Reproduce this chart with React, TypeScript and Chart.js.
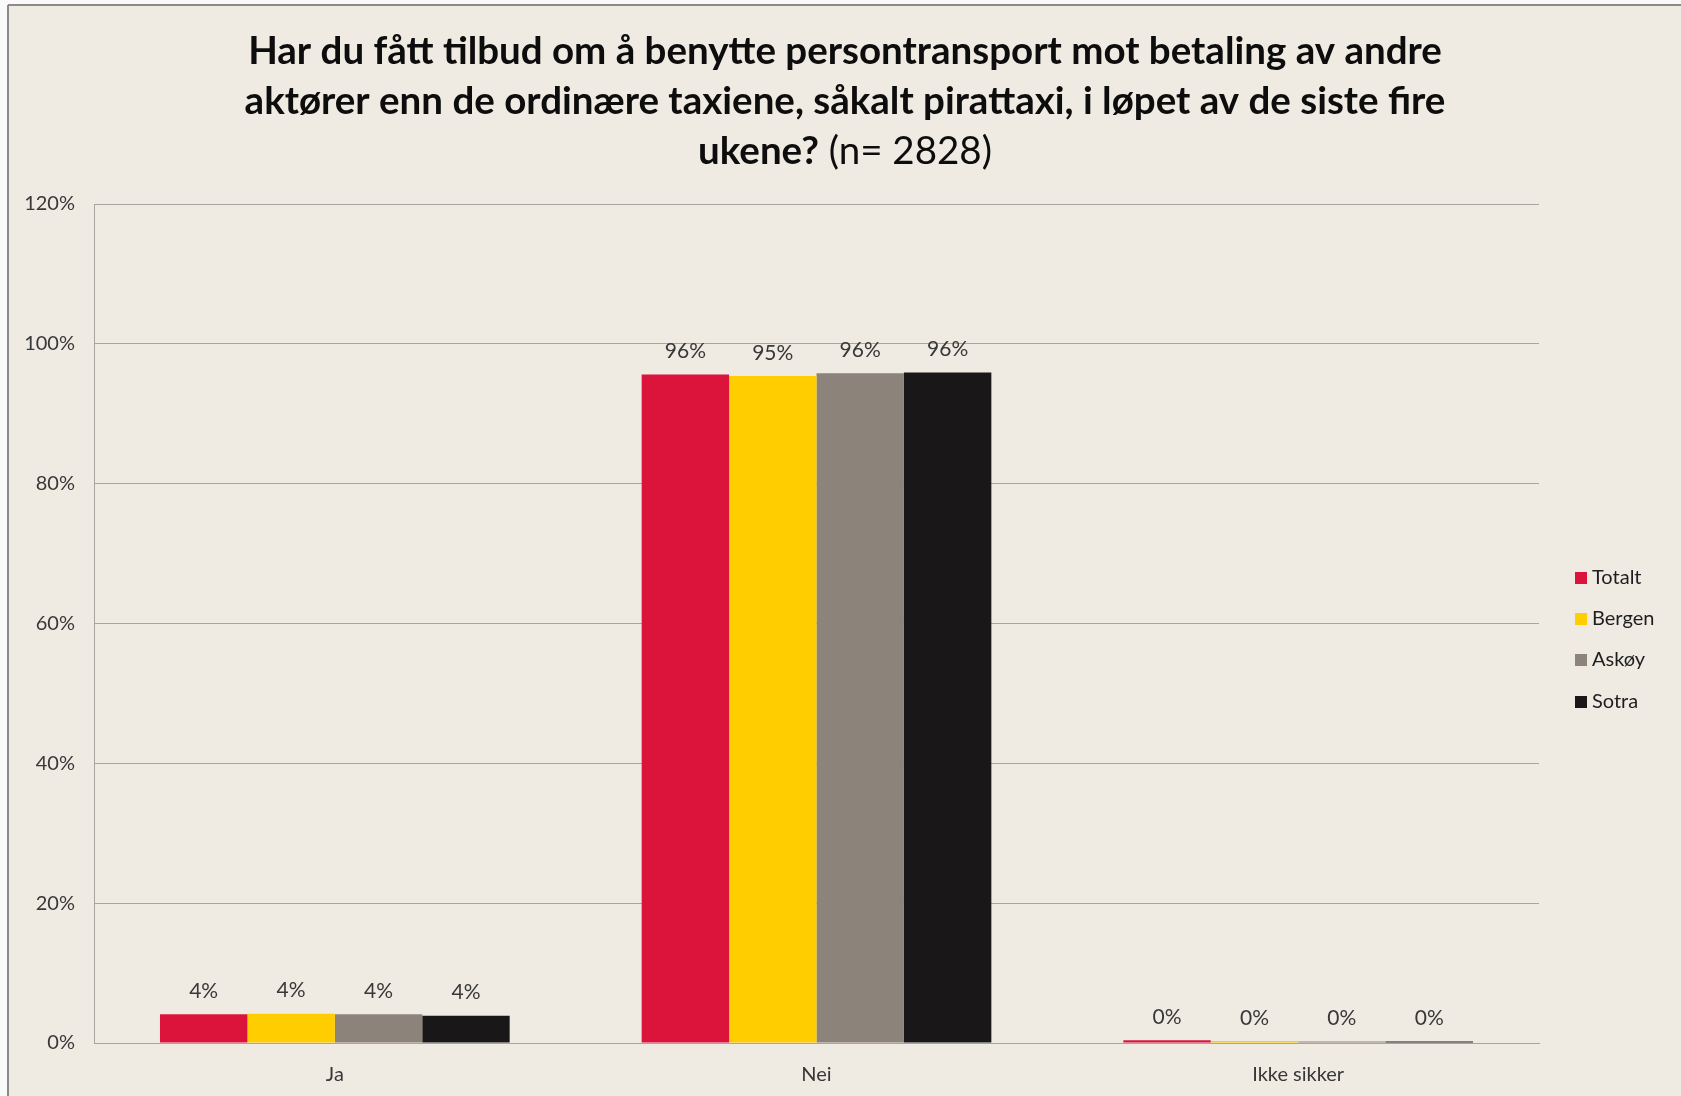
import React, { useEffect, useRef } from "react";
import { Chart, registerables } from "chart.js";

Chart.register(...registerables);

const categories = ["Ja", "Nei", "Ikke sikker"];
const seriesNames = ["Totalt", "Bergen", "Askøy", "Sotra"];
const totalt = [4.1, 95.6, 0.4];
const bergen = [4.2, 95.4, 0.3];
const askoy = [4.1, 95.8, 0.2];
const sotra = [3.9, 95.9, 0.2];
const seriesColors = ["#DC143C", "#FFCD00", "#8C837A", "#1A1719"];
const yTicks = [0, 20, 40, 60, 80, 100, 120];
const titleLines = [
  "Har du fått tilbud om å benytte persontransport mot betaling av andre",
  "aktører enn de ordinære taxiene, såkalt pirattaxi, i løpet av de siste fire",
];
const titleLastBold = "ukene?";
const titleLastNormal = " (n= 2828)";

const FONT = 'Lato, "Open Sans", sans-serif';
const BG = "#EFEBE3";
const GRID = "#A8A49F";
const TEXT = "#383838";

const bgPlugin = {
  id: "bgPlugin",
  beforeDraw(chart: any) {
    const { ctx, width, height } = chart;
    ctx.save();
    ctx.fillStyle = "#FAFAFA";
    ctx.fillRect(0, 0, width, height);
    ctx.fillStyle = BG;
    ctx.fillRect(8, 5, width - 8, height - 5);
    ctx.strokeStyle = "#8A8A8A";
    ctx.lineWidth = 2;
    ctx.beginPath();
    ctx.moveTo(8, 5);
    ctx.lineTo(width, 5);
    ctx.moveTo(8, 5);
    ctx.lineTo(8, height);
    ctx.stroke();
    ctx.restore();
  },
};

const titlePlugin = {
  id: "titlePlugin",
  afterDraw(chart: any) {
    const { ctx } = chart;
    const cx = 845;
    ctx.save();
    ctx.fillStyle = "#0D0D0D";
    ctx.textBaseline = "alphabetic";
    ctx.textAlign = "center";
    const boldFont = `bold 38.5px ${FONT}`;
    const normFont = `38.5px ${FONT}`;
    ctx.font = boldFont;
    ctx.fillText(titleLines[0], cx, 64);
    ctx.fillText(titleLines[1], cx, 114);
    ctx.font = boldFont;
    const w1 = ctx.measureText(titleLastBold).width;
    ctx.font = normFont;
    const w2 = ctx.measureText(titleLastNormal).width;
    const start = cx - (w1 + w2) / 2;
    ctx.textAlign = "left";
    ctx.font = boldFont;
    ctx.fillText(titleLastBold, start, 164);
    ctx.font = normFont;
    ctx.fillText(titleLastNormal, start + w1, 164);
    ctx.restore();
  },
};

const legendPlugin = {
  id: "legendPlugin",
  afterDraw(chart: any) {
    const { ctx } = chart;
    const ys = [578, 619, 660, 702];
    ctx.save();
    ctx.font = `20px ${FONT}`;
    ctx.textBaseline = "middle";
    ctx.textAlign = "left";
    chart.data.datasets.forEach((ds: any, i: number) => {
      ctx.fillStyle = ds.backgroundColor;
      ctx.fillRect(1575, ys[i] - 6, 12, 12);
      ctx.fillStyle = "#1E1E1E";
      ctx.fillText(ds.label, 1592, ys[i]);
    });
    ctx.restore();
  },
};

const valueLabelPlugin = {
  id: "valueLabelPlugin",
  afterDatasetsDraw(chart: any) {
    const { ctx } = chart;
    ctx.save();
    ctx.font = `21px ${FONT}`;
    ctx.fillStyle = TEXT;
    ctx.textAlign = "center";
    ctx.textBaseline = "middle";
    chart.data.datasets.forEach((ds: any, i: number) => {
      const meta = chart.getDatasetMeta(i);
      meta.data.forEach((el: any, j: number) => {
        const v = ds.data[j];
        ctx.fillText(Math.round(v) + "%", el.x, el.y - 23);
      });
    });
    ctx.restore();
  },
};

export default function App() {
  const ref = useRef<HTMLCanvasElement | null>(null);
  useEffect(() => {
    if (!ref.current) return;
    const seriesData = [totalt, bergen, askoy, sotra];
    const chart = new Chart(ref.current, {
      type: "bar",
      data: {
        labels: categories,
        datasets: seriesNames.map((name, i) => ({
          label: name,
          data: seriesData[i],
          backgroundColor: seriesColors[i],
          borderWidth: 0,
          categoryPercentage: 0.726,
          barPercentage: 1.0,
        })),
      },
      options: {
        responsive: false,
        animation: false,
        layout: { padding: { left: 0, right: 142, top: 204, bottom: 0 } },
        plugins: {
          legend: { display: false },
          title: { display: false },
          tooltip: { enabled: false },
        },
        scales: {
          x: {
            grid: { display: false, drawTicks: false },
            border: { display: true, color: GRID, width: 1 },
            ticks: { font: { family: FONT, size: 20 }, color: TEXT, padding: 20 },
            afterFit: (s: any) => {
              s.height = 53;
            },
          },
          y: {
            min: 0,
            max: 120,
            afterBuildTicks: (s: any) => {
              s.ticks = yTicks.map((v) => ({ value: v }));
            },
            grid: { color: GRID, lineWidth: 1, drawTicks: false },
            border: { display: true, color: GRID, width: 1 },
            ticks: {
              font: { family: FONT, size: 20 },
              color: TEXT,
              padding: 19,
              callback: (v: any) => v + "%",
            },
            afterFit: (s: any) => {
              s.width = 94;
            },
          },
        },
      },
      plugins: [bgPlugin, valueLabelPlugin, titlePlugin, legendPlugin],
    });
    return () => chart.destroy();
  }, []);
  return (
    <div style={{ position: "fixed", left: 0, top: 0, width: 1681, height: 1096 }}>
      <canvas ref={ref} width={1681} height={1096} style={{ display: "block" }} />
    </div>
  );
}
